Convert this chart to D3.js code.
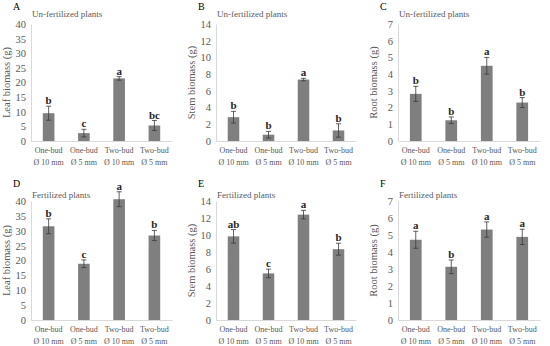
<!DOCTYPE html>
<html>
<head>
<meta charset="utf-8">
<script src="https://cdn.jsdelivr.net/npm/d3@7"></script>
<style>
  body { margin: 0; background: #fff; }
  svg { display: block; }
</style>
</head>
<body>
<svg width="550" height="346"></svg>
<script>
// category labels (two lines)
var catLine1 = ["One-bud", "One-bud", "Two-bud", "Two-bud"];
var catLine2 = ["Ø 10 mm", "Ø 5 mm", "Ø 10 mm", "Ø 5 mm"];

// A - leaf, un-fertilized
var leafUnfert = [9.5, 2.7, 21.4, 5.3];
var leafUnfertErr = [2.4, 1.3, 0.6, 1.7];
var leafUnfertSig = ["b", "c", "a", "bc"];
// B - stem, un-fertilized
var stemUnfert = [2.85, 0.75, 7.35, 1.26];
var stemUnfertErr = [0.7, 0.4, 0.15, 0.8];
var stemUnfertSig = ["b", "b", "a", "b"];
// C - root, un-fertilized
var rootUnfert = [2.82, 1.24, 4.5, 2.3];
var rootUnfertErr = [0.45, 0.2, 0.5, 0.3];
var rootUnfertSig = ["b", "b", "a", "b"];
// D - leaf, fertilized
var leafFert = [31.5, 18.9, 40.6, 28.4];
var leafFertErr = [2.5, 1.3, 2.5, 1.7];
var leafFertSig = ["b", "c", "a", "b"];
// E - stem, fertilized
var stemFert = [9.84, 5.48, 12.4, 8.33];
var stemFertErr = [0.8, 0.5, 0.5, 0.7];
var stemFertSig = ["ab", "c", "a", "b"];
// F - root, fertilized
var rootFert = [4.72, 3.13, 5.32, 4.89];
var rootFertErr = [0.5, 0.4, 0.45, 0.45];
var rootFertSig = ["a", "b", "a", "a"];

// y tick labels
var leafTicks = [0, 5, 10, 15, 20, 25, 30, 35, 40];
var stemTicks = [0, 2, 4, 6, 8, 10, 12, 14];
var rootTicks = [0, 1, 2, 3, 4, 5, 6, 7];

var FONT = "'Liberation Serif', 'Times New Roman', Times, serif";
var svg = d3.select("svg").attr("font-family", FONT);

// column x ranges and row y ranges of the plot areas
var cols = [[31, 172], [216, 356], [398, 540]];
var rows = [[141, 24], [320, 201]];

var panels = [
  {tag: "A", sub: "Un-fertilized plants", yTitle: "Leaf biomass (g)", vals: leafUnfert, err: leafUnfertErr, sig: leafUnfertSig, ticks: leafTicks, c: 0, r: 0},
  {tag: "B", sub: "Un-fertilized plants", yTitle: "Stem biomass (g)", vals: stemUnfert, err: stemUnfertErr, sig: stemUnfertSig, ticks: stemTicks, c: 1, r: 0},
  {tag: "C", sub: "Un-fertilized plants", yTitle: "Root biomass (g)", vals: rootUnfert, err: rootUnfertErr, sig: rootUnfertSig, ticks: rootTicks, c: 2, r: 0},
  {tag: "D", sub: "Fertilized plants", yTitle: "Leaf biomass (g)", vals: leafFert, err: leafFertErr, sig: leafFertSig, ticks: leafTicks, c: 0, r: 1},
  {tag: "E", sub: "Fertilized plants", yTitle: "Stem biomass (g)", vals: stemFert, err: stemFertErr, sig: stemFertSig, ticks: stemTicks, c: 1, r: 1},
  {tag: "F", sub: "Fertilized plants", yTitle: "Root biomass (g)", vals: rootFert, err: rootFertErr, sig: rootFertSig, ticks: rootTicks, c: 2, r: 1}
];

panels.forEach(drawPanel);

function drawPanel(p)
{
  var xr = cols[p.c], yr = rows[p.r];
  var g = svg.append("g");

  var x = d3.scaleBand()
    .domain(d3.range(4))
    .range(xr)
    .paddingInner(0.67)
    .paddingOuter(0.335);

  var y = d3.scaleLinear()
    .domain([0, d3.max(p.ticks)])
    .range(yr);

  // y axis
  var yaxis = d3.axisLeft(y).tickValues(p.ticks).tickFormat(d3.format("d"))
    .tickSize(0).tickPadding(5);
  var ga = g.append("g")
    .attr("transform", "translate(" + xr[0] + ",0)")
    .call(yaxis)
    .attr("font-family", FONT).attr("font-size", 10.5);
  ga.select(".domain").attr("stroke", "#d9d9d9");
  ga.selectAll("text").attr("fill", "#595959");

  // x baseline + category labels
  var xaxis = d3.axisBottom(x).tickSize(0).tickFormat(function() { return ""; });
  var gx = g.append("g")
    .attr("transform", "translate(0," + yr[0] + ")")
    .call(xaxis)
    .attr("font-family", FONT).attr("font-size", 8);
  gx.select(".domain").attr("stroke", "#d9d9d9");
  gx.selectAll(".tick").each(function(d) {
    var t = d3.select(this).select("text")
      .attr("fill", "#595959").attr("y", 0).attr("dy", null);
    t.append("tspan").attr("x", 0).attr("y", 12).text(catLine1[d]);
    t.append("tspan").attr("x", 0).attr("y", 24).text(catLine2[d]);
  });

  // bars
  g.selectAll(".bar").data(p.vals).enter().append("rect")
    .attr("x", function(d, i) { return x(i); })
    .attr("width", x.bandwidth())
    .attr("y", function(d) { return y(d); })
    .attr("height", function(d) { return y(0) - y(d); })
    .attr("fill", "#7f7f7f");

  // error bars
  var cx = function(i) { return x(i) + x.bandwidth() / 2; };
  var eb = g.selectAll(".err").data(p.vals).enter().append("g");
  eb.append("line")
    .attr("x1", function(d, i) { return cx(i); })
    .attr("x2", function(d, i) { return cx(i); })
    .attr("y1", function(d, i) { return y(d - p.err[i]); })
    .attr("y2", function(d, i) { return y(d + p.err[i]); });
  eb.append("line")
    .attr("x1", function(d, i) { return cx(i) - 2.5; })
    .attr("x2", function(d, i) { return cx(i) + 2.5; })
    .attr("y1", function(d, i) { return y(d + p.err[i]); })
    .attr("y2", function(d, i) { return y(d + p.err[i]); });
  eb.append("line")
    .attr("x1", function(d, i) { return cx(i) - 2.5; })
    .attr("x2", function(d, i) { return cx(i) + 2.5; })
    .attr("y1", function(d, i) { return y(d - p.err[i]); })
    .attr("y2", function(d, i) { return y(d - p.err[i]); });
  eb.selectAll("line").attr("stroke", "#3a3a3a").attr("stroke-width", 0.8);

  // significance letters
  g.selectAll(".sig").data(p.vals).enter().append("text")
    .attr("x", function(d, i) { return cx(i); })
    .attr("y", function(d, i) { return y(d + p.err[i]) - 2; })
    .attr("text-anchor", "middle")
    .attr("font-size", 11)
    .attr("font-weight", "bold")
    .attr("fill", "#262626")
    .text(function(d, i) { return p.sig[i]; });

  // panel tag and subtitle
  g.append("text")
    .attr("x", xr[0] - 18).attr("y", yr[1] - 14)
    .attr("font-size", 10)
    .attr("fill", "#000")
    .text(p.tag);
  g.append("text")
    .attr("x", xr[0] + 1).attr("y", yr[1] - (p.r == 0 ? 7 : 3))
    .attr("font-size", 9)
    .attr("fill", "#595959")
    .text(p.sub);

  // y axis title
  g.append("text")
    .attr("transform", "translate(" + (xr[0] - 21) + "," + ((yr[0] + yr[1]) / 2) + ") rotate(-90)")
    .attr("text-anchor", "middle")
    .attr("font-size", 10.5)
    .attr("fill", "#595959")
    .text(p.yTitle);
}
</script>
</body>
</html>
